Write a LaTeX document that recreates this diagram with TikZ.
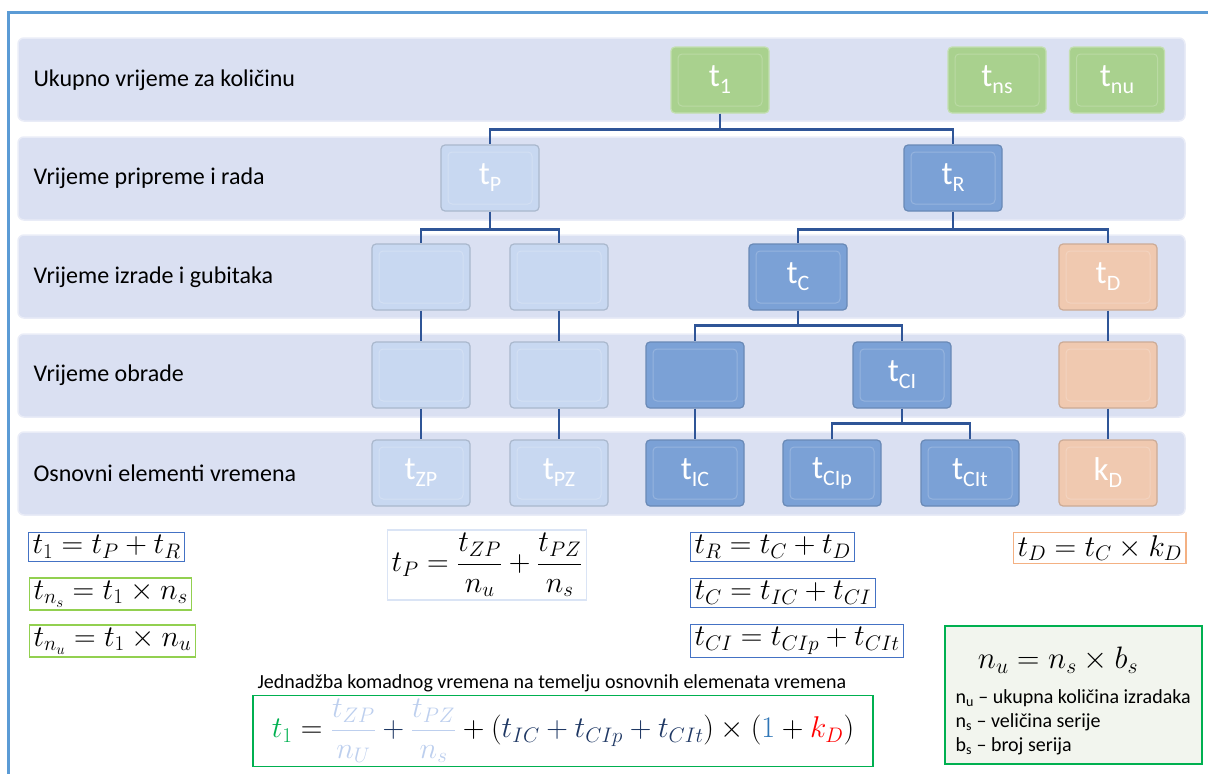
\documentclass[tikz,border=0pt]{standalone}
\usepackage{fix-cm}
\usepackage{fontspec}
\setmainfont{Carlito}
\usetikzlibrary{positioning}

\definecolor{okvir}{RGB}{91,155,213}
\definecolor{trakaboja}{RGB}{218,224,242}
\definecolor{zelena}{RGB}{169,209,142}
\definecolor{svijetloplava}{RGB}{200,216,241}
\definecolor{plava}{RGB}{123,161,214}
\definecolor{breskva}{RGB}{240,201,176}
\definecolor{linija}{RGB}{47,85,151}
\definecolor{jakozelena}{RGB}{0,176,80}
\definecolor{zelenaruba}{RGB}{146,208,80}
\definecolor{plavaruba}{RGB}{68,114,196}
\definecolor{blijedaruba}{RGB}{218,228,245}
\definecolor{narancasta}{RGB}{244,177,131}
\definecolor{tamnoplava}{RGB}{31,56,100}
\definecolor{srednjeplava}{RGB}{46,117,182}
\definecolor{blijedoplava}{RGB}{189,207,238}
\definecolor{sivozelena}{RGB}{242,245,238}

% indeks u blokovima
\newcommand{\ind}[1]{\raisebox{-7pt}{\fontsize{22}{22}\selectfont #1}}

\begin{document}
\begin{tikzpicture}[x=1pt,y=-1pt,
  traka/.style={fill=trakaboja, draw=white!40!trakaboja, line width=1.5pt, rounded corners=6pt},
  natpis/.style={anchor=west, font=\fontsize{24}{28}\selectfont},
  blok/.style={minimum width=98pt, minimum height=66pt, inner sep=0pt, rounded corners=4pt,
    line width=1.2pt, text=white, font=\fontsize{33}{34}\selectfont,
    path picture={\draw[white, opacity=0.2, line width=1pt]
      ([shift={(7pt,-7pt)}]path picture bounding box.north west) rectangle
      ([shift={(-7pt,7pt)}]path picture bounding box.south east);}},
  zeleniblok/.style={blok, fill=zelena, draw=zelena!70!white},
  svijetliblok/.style={blok, fill=svijetloplava, draw=svijetloplava!85!black},
  plaviblok/.style={blok, fill=plava, draw=plava!85!black},
  breskvablok/.style={blok, fill=breskva, draw=breskva!85!black},
  veza/.style={draw=linija, line width=2.4pt},
  formula/.style={draw, line width=1.2pt, inner xsep=4pt, inner ysep=3pt, font=\fontsize{30}{34}\selectfont},
  tekst/.style={anchor=west, font=\fontsize{20}{22}\selectfont},
]
\useasboundingbox (0,0) rectangle (1208,774);

% Okvir
\draw[okvir, line width=3pt] (8,774) -- (8,12) -- (1208,12);

% Trake po razinama
\draw[traka] (18,38) rectangle (1185,121);
\draw[traka] (18,137) rectangle (1185,220);
\draw[traka] (18,235) rectangle (1185,318);
\draw[traka] (18,334) rectangle (1185,417);
\draw[traka] (18,432) rectangle (1185,515);

% Nazivi razina
\node[natpis] (r1) at (30,80) {Ukupno vrijeme za količinu};
\node[natpis] (r2) at (30,178) {Vrijeme pripreme i rada};
\node[natpis] (r3) at (30,277) {Vrijeme izrade i gubitaka};
\node[natpis] (r4) at (30,375) {Vrijeme obrade};
\node[natpis] (r5) at (30,473) {Osnovni elementi vremena};

% Razina 1
\node[zeleniblok] (t1) at (720,80) {t\ind{1}};
\node[zeleniblok] (tns) at (997,80) {t\ind{ns}};
\node[zeleniblok, minimum width=95pt] (tnu) at (1117,80) {t\ind{nu}};

% Razina 2
\node[svijetliblok] (tP) at (490,178) {t\ind{P}};
\node[plaviblok] (tR) at (953,178) {t\ind{R}};

% Razina 3
\node[svijetliblok] (a3) at (421,277) {};
\node[svijetliblok] (b3) at (559,277) {};
\node[plaviblok] (tC) at (798,277) {t\ind{C}};
\node[breskvablok] (tD) at (1108,277) {t\ind{D}};

% Razina 4
\node[svijetliblok] (a4) at (421,375) {};
\node[svijetliblok] (b4) at (559,375) {};
\node[plaviblok] (c4) at (695,375) {};
\node[plaviblok] (tCI) at (902,375) {t\ind{CI}};
\node[breskvablok] (d4) at (1108,375) {};

% Razina 5
\node[svijetliblok] (tZP) at (421,473) {t\ind{ZP}};
\node[svijetliblok] (tPZ) at (559,473) {t\ind{PZ}};
\node[plaviblok] (tIC) at (695,473) {t\ind{IC}};
\node[plaviblok] (tCIp) at (832,473) {t\ind{CIp}};
\node[plaviblok] (tCIt) at (970,473) {t\ind{CIt}};
\node[breskvablok] (kD) at (1108,473) {k\ind{D}};

% Veze
\draw[veza] (t1.south) -- ++(0,16) -| (tP.north);
\draw[veza] (t1.south) -- ++(0,16) -| (tR.north);
\draw[veza] (tP.south) -- ++(0,18) -| (a3.north);
\draw[veza] (tP.south) -- ++(0,18) -| (b3.north);
\draw[veza] (a3.south) -- (a4.north) (a4.south) -- (tZP.north);
\draw[veza] (b3.south) -- (b4.north) (b4.south) -- (tPZ.north);
\draw[veza] (tR.south) -- ++(0,18) -| (tC.north);
\draw[veza] (tR.south) -- ++(0,18) -| (tD.north);
\draw[veza] (tC.south) -- ++(0,15) -| (c4.north);
\draw[veza] (tC.south) -- ++(0,15) -| (tCI.north);
\draw[veza] (c4.south) -- (tIC.north);
\draw[veza] (tCI.south) -- ++(0,15) -| (tCIp.north);
\draw[veza] (tCI.south) -- ++(0,15) -| (tCIt.north);
\draw[veza] (tD.south) -- (d4.north) (d4.south) -- (kD.north);

% Jednadzbe
\node[formula, draw=plavaruba, anchor=west] (f1) at (28,547) {$t_1 = t_P + t_R$};
\node[formula, draw=zelenaruba, anchor=west] (fns) at (29,594) {$t_{n_s} = t_1 \times n_s$};
\node[formula, draw=zelenaruba, anchor=west] (fnu) at (29,641) {$t_{n_u} = t_1 \times n_u$};
\node[formula, draw=blijedaruba] (fP) at (487,565)
  {$\displaystyle t_P = \frac{t_{ZP}}{n_u} + \frac{t_{PZ}}{n_s}$};
\node[formula, draw=plavaruba, anchor=west] (fR) at (690,547) {$t_R = t_C + t_D$};
\node[formula, draw=plavaruba, anchor=west] (fC) at (690,593) {$t_C = t_{IC} + t_{CI}$};
\node[formula, draw=plavaruba, anchor=west] (fCI) at (690,641) {$t_{CI} = t_{CIp} + t_{CIt}$};
\node[formula, draw=narancasta, anchor=west] (fD) at (1013,548) {$t_D = t_C \times k_D$};

% Komadno vrijeme
\node[tekst] (opis) at (254,683)
  {Jednadžba komadnog vremena na temelju osnovnih elemenata vremena};
\node[formula, draw=jakozelena, minimum width=620pt, minimum height=71pt] (fT1) at (563,731)
  {$\displaystyle \color{jakozelena}t_1 \color{black}=
   \color{blijedoplava}\frac{t_{ZP}}{n_U} \color{tamnoplava}+ \color{blijedoplava}\frac{t_{PZ}}{n_s}
   \color{black}+ \bigl(\color{tamnoplava}t_{IC} + t_{CIp} + t_{CIt}\color{black}\bigr) \times
   (\color{srednjeplava}1 \color{black}+ \color{red}k_D\color{black})$};

% Broj izradaka
\node[draw=jakozelena, line width=2.5pt, fill=sivozelena, minimum width=257pt, minimum height=138pt] (nubox) at (1073.5,695) {};
\node[font=\fontsize{31}{34}\selectfont] (fnu2) at (1058,660) {$n_u = n_s \times b_s$};
\node[tekst] (l1) at (952,698) {n\textsubscript{u} – ukupna količina izradaka};
\node[tekst] (l2) at (952,722) {n\textsubscript{s} – veličina serije};
\node[tekst] (l3) at (952,746) {b\textsubscript{s} – broj serija};
\end{tikzpicture}
\end{document}
